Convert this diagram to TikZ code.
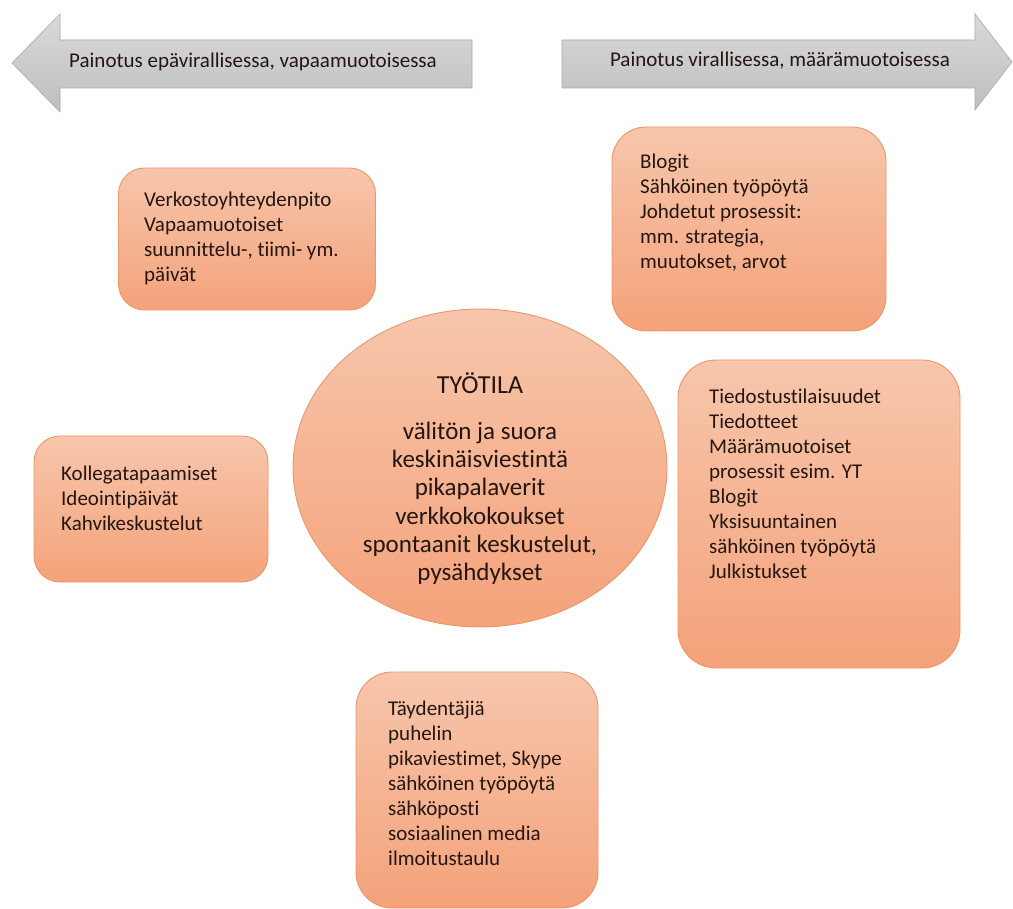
\documentclass[tikz,border=0pt]{standalone}
\usepackage{fontspec}
\setmainfont{Carlito}[Ligatures={TeX,NoCommon}]
\usetikzlibrary{shapes.geometric}

\definecolor{peachtop}{RGB}{247,198,172}
\definecolor{peachbot}{RGB}{244,162,122}
\definecolor{peachline}{RGB}{236,150,105}
\definecolor{inktext}{RGB}{36,22,18}
\definecolor{greytop}{RGB}{218,218,218}
\definecolor{greybot}{RGB}{190,190,190}
\definecolor{greyline}{RGB}{170,170,170}

\tikzset{
  card/.style={draw=peachline, line width=0.9pt, top color=peachtop, bottom color=peachbot,
               rectangle, inner sep=0pt},
  cardtext/.style={anchor=north west, align=left, inner sep=0pt, text=inktext,
                   font=\fontsize{21}{25}\selectfont},
  banner/.style={draw=greyline, line width=0.6pt, top color=greytop, bottom color=greybot},
  bannertext/.style={inner sep=0pt, text=inktext, font=\fontsize{21}{24}\selectfont},
  hub/.style={draw=peachline, line width=0.9pt, top color=peachtop, bottom color=peachbot,
              ellipse, inner sep=0pt, minimum width=374pt, minimum height=318pt},
  hubtext/.style={align=center, inner sep=0pt, text=inktext, font=\fontsize{25}{28.2}\selectfont}
}

\begin{document}
\begin{tikzpicture}[x=1pt,y=-1pt]
\useasboundingbox (0,0) rectangle (1013,909);

% direction banners
\path[banner] (12,63) -- (60,14) -- (60,40) -- (472,40) -- (472,88) -- (60,88) -- (60,112) -- cycle;
\node[bannertext] (leftlabel) at (253,62) {Painotus epävirallisessa, vapaamuotoisessa};
\path[banner] (1012,62) -- (975,14) -- (975,40) -- (562,40) -- (562,88) -- (975,88) -- (975,110) -- cycle;
\node[bannertext] (rightlabel) at (780,61) {Painotus virallisessa, määrämuotoisessa};

% central ellipse
\node[hub] (hub) at (480,468) {};
\node[hubtext, font=\fontsize{26}{28}\selectfont] (hubtitle) at (480,383) {TYÖTILA};
\node[hubtext, anchor=north] (hubbody) at (480,422) {välitön ja suora\\keskinäisviestintä\\pikapalaverit\\verkkokokoukset\\spontaanit keskustelut,\\pysähdykset};

% cards
\node[card, rounded corners=26pt, minimum width=257pt, minimum height=142pt] (network) at (247,239) {};
\node[cardtext] (networktext) at (144,192) {Verkostoyhteydenpito\\Vapaamuotoiset\\suunnittelu-, tiimi- ym.\\päivät};

\node[card, rounded corners=34pt, minimum width=274pt, minimum height=204pt] (blogs) at (749,229) {};
\node[cardtext] (blogstext) at (640,154) {Blogit\\Sähköinen työpöytä\\Johdetut prosessit:\\mm. strategia,\\muutokset, arvot};

\node[card, rounded corners=26pt, minimum width=234pt, minimum height=146pt] (peers) at (151,509) {};
\node[cardtext] (peerstext) at (61,466) {Kollegatapaamiset\\Ideointipäivät\\Kahvikeskustelut};

\node[card, rounded corners=38pt, minimum width=282pt, minimum height=308pt] (formal) at (819,514) {};
\node[cardtext] (formaltext) at (709,389) {Tiedostustilaisuudet\\Tiedotteet\\Määrämuotoiset\\prosessit esim. YT\\Blogit\\Yksisuuntainen\\sähköinen työpöytä\\Julkistukset};

\node[card, rounded corners=36pt, minimum width=242pt, minimum height=236pt] (extras) at (477,790) {};
\node[cardtext] (extrastext) at (388,701) {Täydentäjiä\\puhelin\\pikaviestimet, Skype\\sähköinen työpöytä\\sähköposti\\sosiaalinen media\\ilmoitustaulu};

\end{tikzpicture}
\end{document}
